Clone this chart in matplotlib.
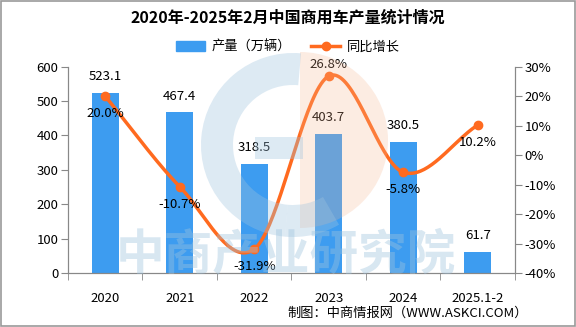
import numpy as np
import matplotlib
matplotlib.use("Agg")
import matplotlib.pyplot as plt
from matplotlib.patches import Wedge, Rectangle
from matplotlib.lines import Line2D

plt.rcParams["font.family"] = ["Noto Sans CJK SC", "DejaVu Sans"]

years = ["2020", "2021", "2022", "2023", "2024", "2025.1-2"]
output = [523.1, 467.4, 318.5, 403.7, 380.5, 61.7]
growth = [20.0, -10.7, -31.9, 26.8, -5.8, 10.2]

bar_color = "#3d9cf0"
line_color = "#ff6a1f"
axis_color = "#888888"


def catmull_rom(xs, ys, n=40):
    xs = np.asarray(xs, float)
    ys = np.asarray(ys, float)
    px = np.concatenate([[2 * xs[0] - xs[1]], xs, [2 * xs[-1] - xs[-2]]])
    py = np.concatenate([[2 * ys[0] - ys[1]], ys, [2 * ys[-1] - ys[-2]]])
    ox, oy = [], []
    for i in range(1, len(px) - 2):
        t = np.linspace(0, 1, n)
        for p, o in ((px, ox), (py, oy)):
            p0, p1, p2, p3 = p[i - 1], p[i], p[i + 1], p[i + 2]
            o.extend(0.5 * (2 * p1 + (-p0 + p2) * t
                            + (2 * p0 - 5 * p1 + 4 * p2 - p3) * t ** 2
                            + (-p0 + 3 * p1 - 3 * p2 + p3) * t ** 3))
    return np.array(ox), np.array(oy)


fig = plt.figure(figsize=(5.76, 3.27), dpi=100)
ax = fig.add_axes([0.118, 0.165, 0.776, 0.631])
ax2 = ax.twinx()

x = np.arange(len(years))
ax.bar(x, output, width=0.36, color=bar_color, zorder=2)
for xi, v in zip(x, output):
    ax.annotate(f"{v:.1f}", (xi, v), xytext=(0, 7), textcoords="offset points",
                ha="center", va="bottom", fontsize=9.5)

sx, sy = catmull_rom(x, growth)
ax2.plot(sx, sy, color=line_color, lw=2.5, zorder=3)
ax2.plot(x, growth, "o", color=line_color, ms=6, zorder=4)
for xi, v in zip(x, growth):
    if v == max(growth):
        ax2.annotate(f"{v:.1f}%", (xi, v), xytext=(0, 4), textcoords="offset points",
                     ha="center", va="bottom", fontsize=9.5)
    else:
        ax2.annotate(f"{v:.1f}%", (xi, v), xytext=(0, -8), textcoords="offset points",
                     ha="center", va="top", fontsize=9.5)

ax.set_xlim(-0.5, len(years) - 0.5)
ax.set_ylim(0, 600)
ax.set_yticks(range(0, 601, 100))
ax2.set_ylim(-40, 30)
ax2.set_yticks(range(-40, 31, 10))
ax2.set_yticklabels([f"{t}%" for t in range(-40, 31, 10)])

ax.set_xticks(x)
ax.set_xticklabels(years)
ax.set_xticks(np.arange(-0.5, len(years)), minor=True)
ax.tick_params(axis="x", which="major", length=0, pad=14, labelsize=9.5)
ax.tick_params(axis="x", which="minor", length=5, color=axis_color, direction="out")
ax.tick_params(axis="y", length=5, color=axis_color, labelsize=9.5, pad=2)
ax2.tick_params(axis="y", length=5, color=axis_color, labelsize=9.5, pad=2)

for a in (ax, ax2):
    a.spines["top"].set_visible(False)
    for s in ("left", "right", "bottom"):
        a.spines[s].set_color(axis_color)

fig.text(0.5, 0.945, "2020年-2025年2月中国商用车产量统计情况", ha="center", va="center",
         fontsize=11.5, fontweight="bold")

handles = [Rectangle((0, 0), 1, 1, color=bar_color),
           Line2D([], [], color=line_color, lw=2.5, marker="o", ms=6)]
fig.legend(handles, ["产量（万辆）", "同比增长"], loc="center", bbox_to_anchor=(0.5, 0.856),
           ncol=2, frameon=False, fontsize=9.5, handlelength=2.2, columnspacing=1.5,
           handletextpad=0.5)

fig.text(0.917, 0.043, "制图：中商情报网（WWW.ASKCI.COM）", ha="right", va="center", fontsize=9.5)

# watermark
wm = fig.add_axes([0, 0, 1, 1], facecolor="none")
wm.set_xlim(0, 576)
wm.set_ylim(327, 0)
wm.axis("off")
wm.add_patch(Wedge((300, 140), 88, -90, 90, color="#f6b48e", alpha=0.25, lw=0))
wm.add_patch(Wedge((293, 145), 92, 95, 275, width=32, color="#9ec3de", alpha=0.35, lw=0))
wm.add_patch(Wedge((293, 145), 92, 60, 95, width=32, color="#9ec3de", alpha=0.35, lw=0))
wm.add_patch(Rectangle((255, 137), 48, 22, color="#9ec3de", alpha=0.35, lw=0))
wm.text(286, 256, "中商产业研究院", ha="center", va="center", fontsize=35,
        fontweight="bold", color="#9ec3de", alpha=0.4)

fig.add_artist(Rectangle((0.001, 0.002), 0.997, 0.995, transform=fig.transFigure,
                         fill=False, edgecolor="#999999", lw=1.2))

fig.savefig("out.png", dpi=100)
